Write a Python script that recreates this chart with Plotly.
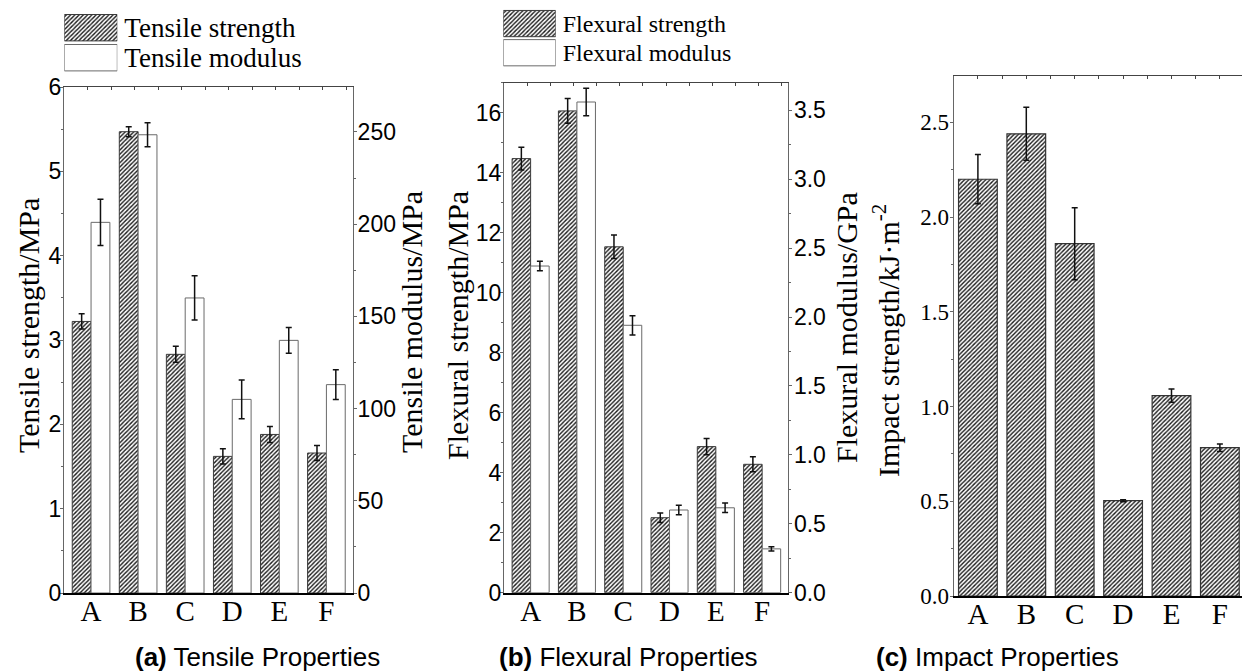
import plotly.graph_objects as go

# ---------------- data ----------------
cats = ["A", "B", "C", "D", "E", "F"]

tensile_strength = [3.22, 5.47, 2.83, 1.62, 1.88, 1.66]
tensile_strength_err = [0.09, 0.06, 0.095, 0.09, 0.095, 0.09]
tensile_modulus = [201, 248.5, 160, 105, 137, 113]
tensile_modulus_err = [12.5, 6.5, 12, 10.5, 7, 8]

flex_strength = [14.47, 16.06, 11.53, 2.50, 4.87, 4.28]
flex_strength_err = [0.38, 0.41, 0.39, 0.16, 0.27, 0.25]
flex_modulus = [2.37, 3.56, 1.94, 0.60, 0.616, 0.318]
flex_modulus_err = [0.035, 0.10, 0.07, 0.035, 0.034, 0.015]

impact_strength = [2.20, 2.44, 1.86, 0.503, 1.058, 0.783]
impact_strength_err = [0.13, 0.14, 0.19, 0.005, 0.035, 0.02]

legend_a = ["Tensile strength", "Tensile modulus"]
legend_b = ["Flexural strength", "Flexural modulus"]

captions = ["<b>(a)</b> Tensile Properties", "<b>(b)</b> Flexural Properties", "<b>(c)</b> Impact Properties"]

# ---------------- style ----------------
W, H = 1242, 672
SERIF = "Liberation Serif"
SANS = "Liberation Sans"

def px(x):
    return x / W

def py(y):
    return 1 - y / H

hatch = dict(shape="/", size=3, solidity=0.45, fgcolor="#1a1a1a", bgcolor="white", fillmode="replace")
hatch_marker = dict(color="white", line=dict(color="#3a3a3a", width=1), pattern=hatch)
white_marker = dict(color="white", line=dict(color="#6a6a6a", width=1))
err_style = dict(type="data", color="#111111", thickness=1.5, width=3, visible=True)

fig = go.Figure()

# panel (a)
fig.add_trace(go.Bar(x=cats, y=tensile_strength, xaxis="x", yaxis="y", offset=-0.4, width=0.4,
                     marker=hatch_marker, error_y=dict(array=tensile_strength_err, **err_style)))
fig.add_trace(go.Bar(x=cats, y=tensile_modulus, xaxis="x", yaxis="y2", offset=0, width=0.4,
                     marker=white_marker, error_y=dict(array=tensile_modulus_err, **err_style)))
# panel (b)
fig.add_trace(go.Bar(x=cats, y=flex_strength, xaxis="x2", yaxis="y3", offset=-0.4, width=0.4,
                     marker=hatch_marker, error_y=dict(array=flex_strength_err, **err_style)))
fig.add_trace(go.Bar(x=cats, y=flex_modulus, xaxis="x2", yaxis="y4", offset=0, width=0.4,
                     marker=white_marker, error_y=dict(array=flex_modulus_err, **err_style)))
# panel (c)
fig.add_trace(go.Bar(x=cats, y=impact_strength, xaxis="x3", yaxis="y5", width=0.8,
                     marker=dict(color="white", line=dict(color="#333333", width=1.2), pattern=hatch),
                     error_y=dict(array=impact_strength_err, **err_style)))

# legend swatches (as bars on small auxiliary axes)
fig.add_trace(go.Bar(x=[1], y=[legend_a[0]], orientation="h", xaxis="x4", yaxis="y6", width=0.88,
                     marker=hatch_marker))
fig.add_trace(go.Bar(x=[1], y=[legend_a[1]], orientation="h", xaxis="x4", yaxis="y6", width=0.88,
                     marker=white_marker))
fig.add_trace(go.Bar(x=[1], y=[legend_b[0]], orientation="h", xaxis="x5", yaxis="y7", width=0.9,
                     marker=hatch_marker))
fig.add_trace(go.Bar(x=[1], y=[legend_b[1]], orientation="h", xaxis="x5", yaxis="y7", width=0.9,
                     marker=white_marker))

XR_ab = [-0.575, 5.565]
XR_c = [-0.5, 5.457]

# invisible helpers so the top (frame) axes get drawn
for xa, ya, rng in [("x6", "y", XR_ab), ("x7", "y3", XR_ab), ("x8", "y5", XR_c)]:
    fig.add_trace(go.Scatter(x=[rng[0]], y=[0], xaxis=xa, yaxis=ya, mode="markers",
                             marker=dict(opacity=0, size=1)))

for tr in fig.data:
    tr.showlegend = False
    tr.hoverinfo = "skip"

def xbottom(domain, anchor, rng):
    return dict(domain=domain, anchor=anchor, type="category", range=rng, automargin=False,
                showline=True, linecolor="black", linewidth=2, ticks="", showgrid=False,
                zeroline=False, tickfont=dict(family=SERIF, size=29, color="black"),
                ticklabelstandoff=-9, fixedrange=True)

def xtop(overlay, anchor, rng):
    return dict(overlaying=overlay, anchor=anchor, side="top", range=rng, type="linear",
                automargin=False,
                showline=True, linecolor="#444444", linewidth=1, ticks="inside", ticklen=3,
                tickcolor="#444444", tick0=rng[0], dtick=0.5, showticklabels=False,
                showgrid=False, zeroline=False)

def yax(domain, anchor, rng, dtick, minor, font, side="left", overlay=None, fmt=None, standoff=-4):
    d = dict(domain=domain, anchor=anchor, range=rng, side=side, dtick=dtick, tick0=0,
             automargin=False,
             showline=True, linecolor="#666666", linewidth=1, ticks="outside", ticklen=3,
             tickcolor="#666666", showgrid=False, zeroline=False,
             minor=dict(dtick=minor, ticks="outside", ticklen=2, tickcolor="#666666"),
             tickfont=dict(family=font, size=23, color="black"), ticklabelstandoff=standoff)
    if overlay:
        d.pop("domain")
        d["overlaying"] = overlay
    if fmt:
        d["tickformat"] = fmt
    return d

dom_a = [px(64), px(353)]
dom_b = [px(504), px(788.3)]
dom_c = [px(953.7), 1.0]
ydom_a = [py(593), py(87)]
ydom_b = [py(592.7), py(82.7)]
ydom_c = [py(596), py(76)]

def legend_y(domain, anchor, names, size):
    return dict(domain=domain, anchor=anchor, type="category", categoryorder="array",
                categoryarray=names, tickmode="array", tickvals=names, ticktext=names,
                range=[1.5, -0.5], side="right", showline=False, ticks="", automargin=False,
                showgrid=False, zeroline=False, ticklabelstandoff=6,
                tickfont=dict(family=SERIF, size=size, color="black"))

layout = dict(
    width=W, height=H, margin=dict(l=0, r=0, t=0, b=0, autoexpand=False),
    paper_bgcolor="white", plot_bgcolor="rgba(0,0,0,0)", showlegend=False, barmode="overlay",
    xaxis=xbottom(dom_a, "y", XR_ab),
    xaxis2=xbottom(dom_b, "y3", XR_ab),
    xaxis3=xbottom(dom_c, "y5", XR_c),
    xaxis6=xtop("x", "y", XR_ab),
    xaxis7=xtop("x2", "y3", XR_ab),
    xaxis8=xtop("x3", "y5", XR_c),
    yaxis=yax(ydom_a, "x", [0, 6], 1, 0.5, SANS, standoff=-6),
    yaxis2=yax(None, "x", [0, 274.4], 50, 25, SANS, side="right", overlay="y", standoff=-4),
    yaxis3=yax(ydom_b, "x2", [0, 17], 2, 1, SANS, standoff=-6),
    yaxis4=yax(None, "x2", [0, 3.7], 0.5, 0.25, SANS, side="right", overlay="y3", fmt=".1f", standoff=-3),
    yaxis5=yax(ydom_c, "x3", [0, 2.745], 0.5, 0.25, SERIF, fmt=".1f", standoff=-4),
    # legend axes
    xaxis4=dict(domain=[px(64.3), px(117.3)], anchor="y6", range=[0, 1], visible=False,
                fixedrange=True, automargin=False),
    yaxis6=legend_y([py(72.7), py(12.7)], "x4", legend_a, 27),
    xaxis5=dict(domain=[px(503.3), px(555.7)], anchor="y7", range=[0, 1], visible=False,
                fixedrange=True, automargin=False),
    yaxis7=legend_y([py(67.3), py(9)], "x5", legend_b, 24),
)
fig.update_layout(**layout)

titles = [
    ("Tensile strength/MPa", 28, 326),
    ("Tensile modulus/MPa", 411, 322),
    ("Flexural strength/MPa", 457, 326),
    ("Flexural modulus/GPa", 846, 328),
    ("Impact strength/kJ·m<sup>-2</sup>", 886, 340),
]
for txt, x, y in titles:
    fig.add_annotation(text=txt, x=px(x), y=py(y), xref="paper", yref="paper", showarrow=False,
                       textangle=-90, xanchor="center", yanchor="middle",
                       font=dict(family=SERIF, size=30, color="black"))

for txt, x in zip(captions, [257, 628, 997]):
    fig.add_annotation(text=txt, x=px(x), y=py(657), xref="paper", yref="paper", showarrow=False,
                       xanchor="center", yanchor="middle",
                       font=dict(family=SANS, size=26, color="black"))

fig.write_html("out.html")
